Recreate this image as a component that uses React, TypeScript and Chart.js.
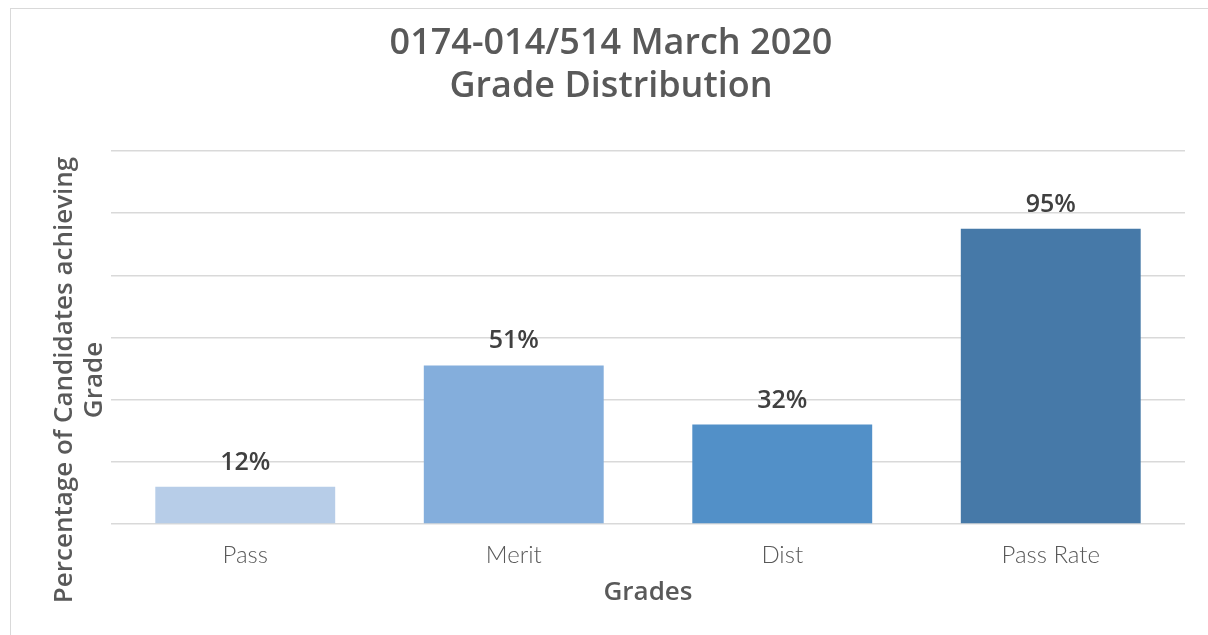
import React, { useEffect, useRef } from "react";
import { Chart, registerables } from "chart.js";

Chart.register(...registerables);

const categories = ["Pass", "Merit", "Dist", "Pass Rate"];
const values = [12, 51, 32, 95];
const barColors = ["#B7CDE8", "#84AEDC", "#5290C8", "#4679A8"];
const titleLines = ["0174-014/514 March 2020", "Grade Distribution"];
const yTitleLines = ["Percentage of Candidates achieving", "Grade"];
const xTitle = "Grades";
const yMax = 120;
const yStep = 20;

const FONT_LIGHT = "Lato, 'Noto Sans', sans-serif";
const FONT_BOLD = "'Open Sans', 'Noto Sans', sans-serif";

const dataLabelPlugin = {
  id: "dataLabels",
  afterDatasetsDraw(chart: any) {
    const ctx = chart.ctx;
    const meta = chart.getDatasetMeta(0);
    ctx.save();
    ctx.font = `600 25px ${FONT_BOLD}`;
    ctx.fillStyle = "#404040";
    ctx.textAlign = "center";
    ctx.textBaseline = "alphabetic";
    meta.data.forEach((bar: any, i: number) => {
      ctx.fillText(`${values[i]}%`, bar.x, bar.y - 17);
    });
    ctx.restore();
  },
};

const yTitlePlugin = {
  id: "yTitle",
  afterDraw(chart: any) {
    const ctx = chart.ctx;
    const area = chart.chartArea;
    ctx.save();
    ctx.font = `600 26px ${FONT_BOLD}`;
    ctx.fillStyle = "#595959";
    ctx.textAlign = "center";
    ctx.textBaseline = "middle";
    const cy = area.bottom - 144;
    yTitleLines.forEach((line, i) => {
      ctx.save();
      ctx.translate(area.left - 46 + i * 30, cy);
      ctx.rotate(-Math.PI / 2);
      ctx.fillText(line, 0, 0);
      ctx.restore();
    });
    ctx.restore();
  },
};

export default function App() {
  const ref = useRef<HTMLCanvasElement | null>(null);

  useEffect(() => {
    if (!ref.current) return;
    const chart = new Chart(ref.current, {
      type: "bar",
      data: {
        labels: categories,
        datasets: [
          {
            data: values,
            backgroundColor: barColors,
            borderWidth: 0,
            categoryPercentage: 0.67,
            barPercentage: 1,
          },
        ],
      },
      options: {
        animation: false,
        responsive: false,
        layout: { padding: { left: 37, right: 37, top: 0, bottom: 0 } },
        plugins: {
          legend: { display: false },
          tooltip: { enabled: false },
          title: {
            display: true,
            text: titleLines,
            color: "#595959",
            font: { family: FONT_BOLD, size: 36, weight: "600", lineHeight: 43 / 36 },
            padding: { top: 22, bottom: 43 },
          },
        },
        scales: {
          x: {
            grid: { display: false },
            border: { display: false },
            ticks: {
              color: "#595959",
              font: { family: FONT_LIGHT, size: 24, weight: "300" },
              padding: 9,
            },
            title: {
              display: true,
              text: xTitle,
              color: "#595959",
              font: { family: FONT_BOLD, size: 26, weight: "600", lineHeight: 1.2 },
              padding: { top: 0, bottom: 27 },
            },
            afterFit(scale: any) {
              scale.height = 111;
            },
          },
          y: {
            min: 0,
            max: yMax,
            grid: { color: "#D9D9D9", lineWidth: 1.5, drawTicks: false },
            border: { display: false },
            ticks: { display: false, stepSize: yStep },
            afterFit(scale: any) {
              scale.width = 74;
            },
          },
        },
      },
      plugins: [dataLabelPlugin, yTitlePlugin],
    });
    return () => chart.destroy();
  }, []);

  return (
    <div
      style={{
        position: "fixed",
        left: 0,
        top: 0,
        width: 1208,
        height: 635,
        overflow: "hidden",
        background: "#ffffff",
      }}
    >
      <div
        style={{
          position: "absolute",
          left: 10,
          top: 8,
          width: 1240,
          height: 660,
          border: "1px solid #D9D9D9",
          boxSizing: "border-box",
        }}
      />
      <canvas
        ref={ref}
        width={1222}
        height={635}
        style={{ position: "absolute", left: 0, top: 0, width: 1222, height: 635 }}
      />
    </div>
  );
}
